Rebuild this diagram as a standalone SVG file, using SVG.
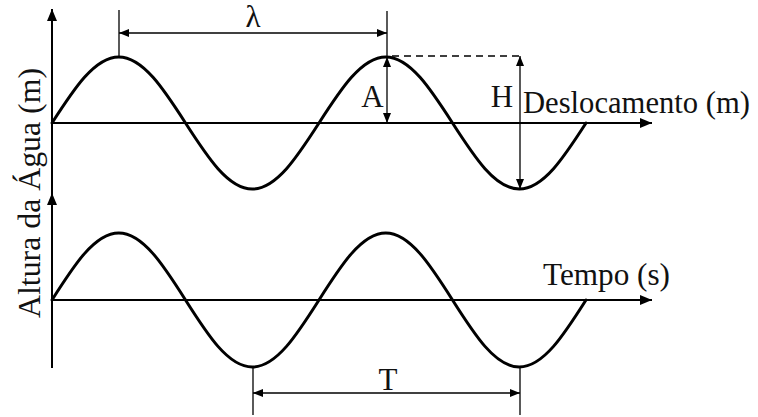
<svg xmlns="http://www.w3.org/2000/svg" width="758" height="417" viewBox="0 0 758 417">
<style>
.wave{fill:none;stroke:#000;stroke-width:3;stroke-linecap:round}
.axis{fill:none;stroke:#000;stroke-width:2}
.dim{fill:none;stroke:#000;stroke-width:1.3}
.dash{fill:none;stroke:#000;stroke-width:1.3;stroke-dasharray:7,5}
.lbl{font-family:"Liberation Serif","Times New Roman",serif;font-size:31px;fill:#111}
</style>
<defs>
<marker id="ax" markerUnits="userSpaceOnUse" markerWidth="13" markerHeight="11" refX="12" refY="5" orient="auto-start-reverse"><path d="M0,0 L12,5 L0,10 z" fill="#000"/></marker>
<marker id="ar" markerUnits="userSpaceOnUse" markerWidth="11" markerHeight="9" refX="10" refY="4" orient="auto-start-reverse"><path d="M0,0 L10,4 L0,8 z" fill="#000"/></marker>
</defs>
<g id="axes">
<line class="axis" x1="52" y1="368" x2="52" y2="9" marker-end="url(#ax)"/>
<line class="axis" x1="52" y1="300" x2="52" y2="193" marker-end="url(#ax)"/>
<line class="axis" x1="52" y1="123" x2="652" y2="123" marker-end="url(#ax)"/>
<line class="axis" x1="52" y1="300" x2="652" y2="300" marker-end="url(#ax)"/>
</g>
<g id="wave-top">
<path class="wave" d="M52,123 C73.77,89.19 94.59,57 118.75,57 C142.91,57 163.73,89.19 185.5,123 C207.27,156.81 228.09,189 252.25,189 C276.41,189 297.23,156.81 319,123 C340.77,89.19 361.59,57 385.75,57 C409.91,57 430.73,89.19 452.5,123 C474.27,156.81 495.09,189 519.25,189 C543.41,189 564.23,156.81 586,123"/>
</g>
<g id="wave-bottom">
<path class="wave" d="M52,300 C73.77,265.68 94.59,233 118.75,233 C142.91,233 163.73,265.68 185.5,300 C207.27,334.32 228.09,367 252.25,367 C276.41,367 297.23,334.32 319,300 C340.77,265.68 361.59,233 385.75,233 C409.91,233 430.73,265.68 452.5,300 C474.27,334.32 495.09,367 519.25,367 C543.41,367 564.23,334.32 586,300"/>
</g>
<g id="connectors">
<line class="dim" x1="119" y1="10" x2="119" y2="56"/>
<line class="dim" x1="387" y1="11" x2="387" y2="56"/>
<line class="dim" x1="119" y1="33" x2="387" y2="33" marker-start="url(#ar)" marker-end="url(#ar)"/>
<line class="dim" x1="387" y1="57" x2="387" y2="123" marker-start="url(#ar)" marker-end="url(#ar)"/>
<line class="dash" x1="392" y1="56" x2="520" y2="56"/>
<line class="dim" x1="520" y1="56" x2="520" y2="189" marker-start="url(#ar)" marker-end="url(#ar)"/>
<line class="dim" x1="253" y1="368" x2="253" y2="415"/>
<line class="dim" x1="520" y1="368" x2="520" y2="415"/>
<line class="dim" x1="253" y1="393" x2="520" y2="393" marker-start="url(#ar)" marker-end="url(#ar)"/>
</g>
<g id="labels">
<text class="lbl" x="253" y="27" text-anchor="middle">λ</text>
<text class="lbl" x="372.5" y="107" text-anchor="middle">A</text>
<text class="lbl" x="502" y="107" text-anchor="middle">H</text>
<text class="lbl" x="523" y="113" textLength="227" lengthAdjust="spacingAndGlyphs">Deslocamento (m)</text>
<text class="lbl" x="543" y="285" textLength="127" lengthAdjust="spacingAndGlyphs">Tempo (s)</text>
<text class="lbl" x="388" y="390" text-anchor="middle">T</text>
<text class="lbl" transform="translate(40,193) rotate(-90)" text-anchor="middle" textLength="250" lengthAdjust="spacingAndGlyphs">Altura da Água (m)</text>
</g>
</svg>
